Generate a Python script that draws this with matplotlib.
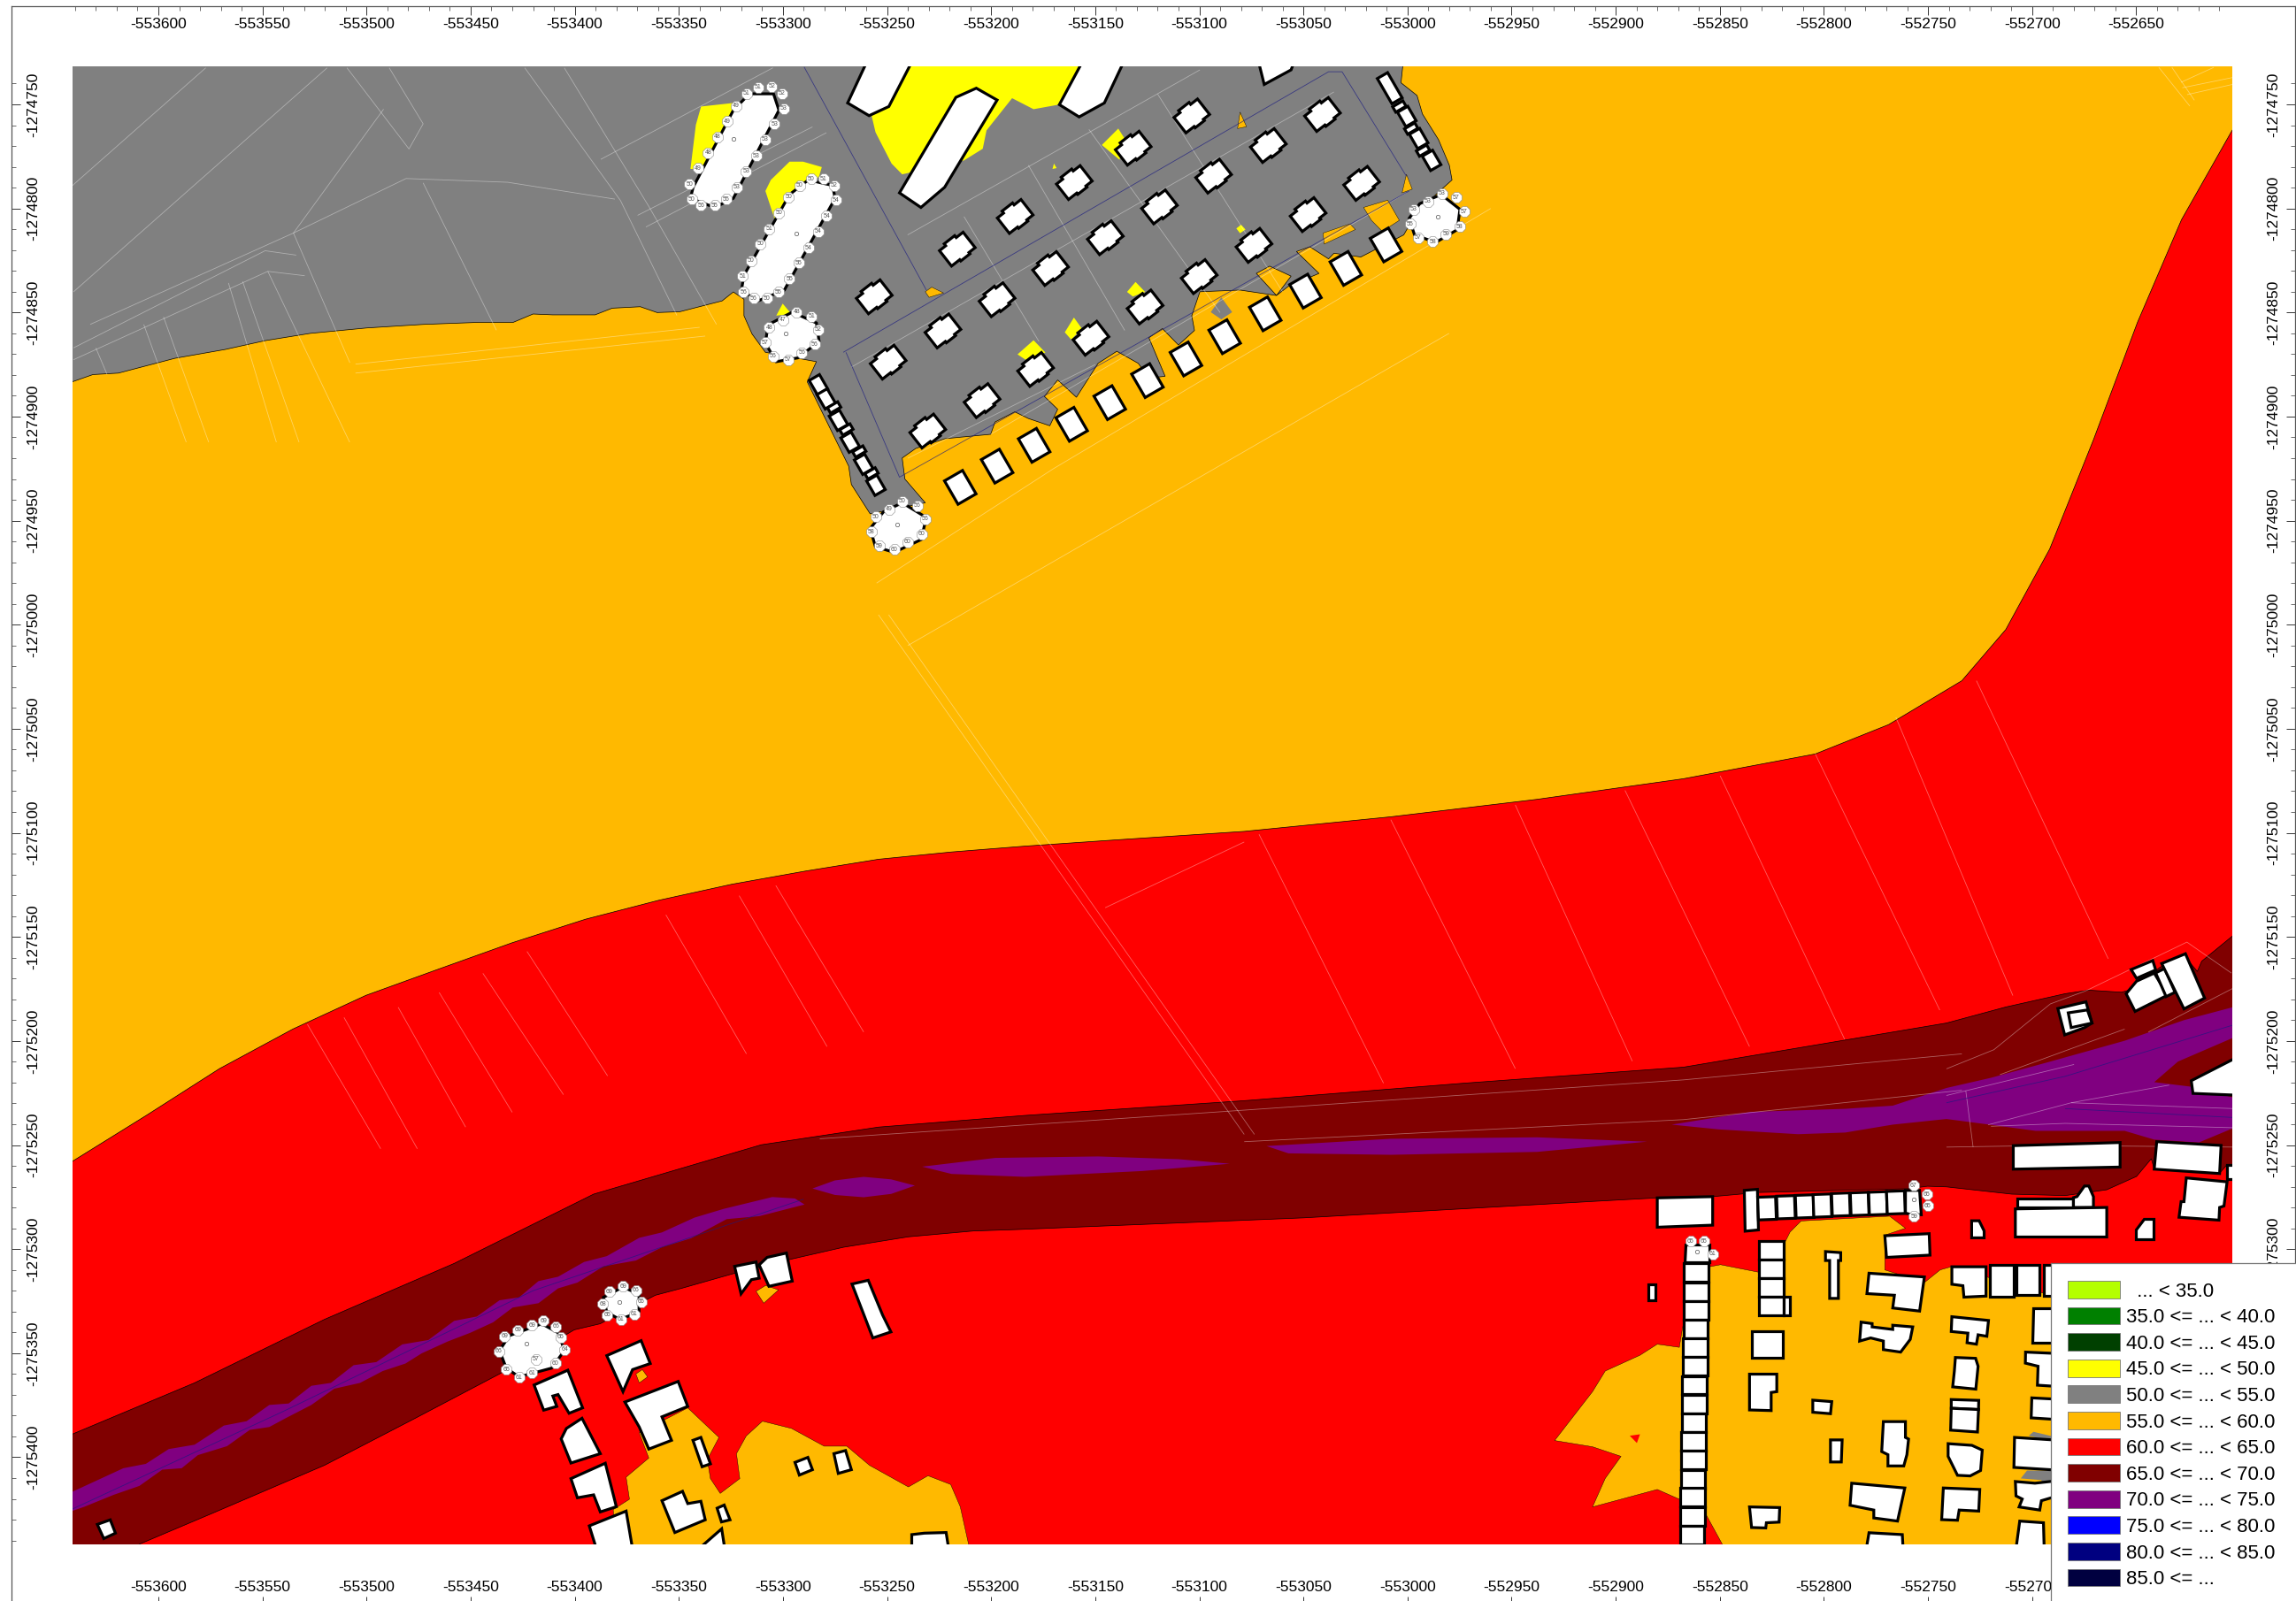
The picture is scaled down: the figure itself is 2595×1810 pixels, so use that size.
import numpy as np
import matplotlib
matplotlib.use('Agg')
import matplotlib.pyplot as plt
from matplotlib.patches import Polygon, Patch
from matplotlib.collections import LineCollection

plt.rcParams['font.family'] = ['Liberation Sans', 'DejaVu Sans']

# map origin: all shapes below are metres east / south of this point
E0 = -553600
N0 = -1274750

x_major = list(range(-553600, -552600, 50))
y_major = list(range(-1274750, -1275450, -50))
x_minor = list(range(-553640, -552600, 10))
y_minor = list(range(-1274740, -1275450, -10))

legend_labels = ['  ... < 35.0', '35.0 <= ... < 40.0', '40.0 <= ... < 45.0', '45.0 <= ... < 50.0',
                 '50.0 <= ... < 55.0', '55.0 <= ... < 60.0', '60.0 <= ... < 65.0', '65.0 <= ... < 70.0',
                 '70.0 <= ... < 75.0', '75.0 <= ... < 80.0', '80.0 <= ... < 85.0', '85.0 <= ...']
legend_colors = ['#B4FF00', '#008000', '#004000', '#FFFF00', '#808080', '#FFB900',
                 '#FF0000', '#800000', '#800080', '#0000FF', '#000080', '#000040']

# noise bands
gray_zone = [(-45, -20), (597.7, -20), (597.7, -18), (596.9, -10.4), (604.6, -4.3), (607.2, 4.6), (614.9, 16.9),
             (620.1, 29.2), (621.4, 36.3), (613.6, 43.3), (603.3, 53.9), (598.2, 62.7), (577.6, 73.3),
             (564.7, 71.5), (562.1, 74.2), (553.1, 68.4), (546.7, 70.7), (557.5, 81.2), (542.8, 87.4),
             (537.1, 91.8), (544.1, 82.5), (533.8, 77.7), (527.4, 81.2), (537.1, 91.8), (519.6, 89.2),
             (500.3, 90), (496.4, 101.5), (497.7, 108.6), (490, 115.6), (482.3, 107.7), (475.8, 112.1),
             (483.6, 130.6), (475.8, 131.5), (470.7, 124.4), (460.4, 118.6), (451.4, 124.4), (441, 140.7),
             (432, 132.4), (425.6, 140.3), (432, 146.5), (428.2, 154.4), (417.9, 150.9), (411.4, 147.7),
             (401.9, 152.6), (399.8, 158.5), (377.9, 160.6), (363.8, 165.3), (357.3, 169.9), (358.6, 180),
             (368.4, 191.4), (341.9, 196.7), (332.9, 182.6), (331.6, 173.8), (311.7, 133.3), (316.1, 123.6),
             (291.6, 119.1), (285.2, 110.3), (281.3, 101.5), (281.3, 93.6), (276.2, 90.1), (270.8, 94.4),
             (250.5, 99.6), (239.6, 100), (231.5, 97.2), (218, 97.9), (209.8, 101.1), (189.5, 101.1),
             (180, 100.7), (170.5, 104.7), (154.3, 104.7), (127.2, 105.7), (100.1, 107.4), (73, 110),
             (51.3, 113.5), (32.3, 117.7), (7.9, 122), (-19.2, 129.1), (-31.4, 129.8), (-41.4, 133.3), (-45, 134)]
gray_islands = [[(510.6, 92.7), (515.8, 99.8), (510.6, 103.3), (505.5, 99.8)],
                [(898.4, 639.7), (900.7, 637.8), (915, 641.2), (915, 643.5)],
                [(894.6, 660.2), (897.6, 656.4), (915, 656.4), (915, 670), (907, 670), (904.5, 661)]]
red_zone = [(-45, 510), (-40.9, 507.6), (-5.8, 485.8), (29.4, 463.3), (64.6, 444.3), (99.7, 428.1), (134.8, 415.4),
            (170, 402.8), (205.2, 391.5), (240.4, 382.4), (275.5, 374.7), (310.7, 368.4), (345.9, 362.7),
            (381, 359.2), (416.2, 356.4), (458.4, 353.5), (521.7, 349.3), (592, 342.3), (662.3, 333.9),
            (732.6, 324), (795.9, 312.1), (831.1, 298), (866.3, 276.9), (887.4, 252.3), (908.5, 213.6),
            (929.6, 160.9), (950.7, 104.6), (971.8, 55.4), (995.7, 13.2), (1000, 6), (1000, 700), (-45, 700)]
dark_zone = [(-45, 641), (-41.5, 639), (17.4, 614.3), (79.8, 583.8), (142.1, 556.9), (209.1, 523.6), (289.6, 499.9),
             (345.9, 491.4), (416.2, 485.8), (521.7, 478.7), (627.2, 470.3), (732.6, 462.6), (858.9, 441.4),
             (887.4, 433.7), (915.9, 427.3), (927.3, 425.6), (943, 426.6), (948, 425.2), (961.6, 414.5),
             (973, 408.9), (979.4, 416.6), (981.5, 411.7), (997.1, 398.9), (1000, 396), (1000, 509.5),
             (993.6, 509.5), (990, 513.7), (958.7, 511.6), (957.3, 506.6), (950.2, 515.1), (935.9, 521.5),
             (915.9, 524.3), (890.3, 523.6), (858.9, 520.1), (849.8, 519.8), (840.7, 521), (768.6, 522.8),
             (746.6, 524.8), (720, 525.4), (688.9, 527.1), (550, 535), (412.7, 540.6), (391.5, 541.3),
             (360.3, 544.1), (329.2, 549.1), (304.2, 554.8), (276.2, 561.8), (251.2, 568.9), (238.7, 572.2),
             (212.2, 585.9), (199.8, 588.8), (163.9, 610), (123.4, 631.3), (79.8, 653.9), (26.8, 676.6),
             (-9.1, 691.8), (-18, 700), (-45, 700)]
purple_west = [(-45, 668), (-41.5, 666.7), (-16.8, 655.3), (-6, 653.2), (5, 646.1), (17.4, 644), (31.5, 634.8),
               (42.4, 632.7), (53.3, 624.9), (62.6, 624.2), (73.5, 615.7), (82.9, 614.3), (93.8, 605.8), (104.7, 604.3),
               (117.2, 595.8), (129.7, 593.7), (142.1, 584.5), (153, 582.4), (163.9, 574.6), (173.3, 573.2),
               (182.6, 565.4), (192, 563.3), (204.5, 556.2), (215.4, 553.4), (231, 544.6), (241.9, 542), (257.5, 534.9),
               (271.5, 530.7), (294.9, 525), (305.8, 525.7), (310.4, 528.6), (288.6, 534.2), (273, 535.6), (255.9, 544.8),
               (241.9, 549.1), (229.4, 555.5), (213.8, 558.3), (201.3, 566.1), (192, 568.9), (182.6, 576), (170.2, 578.1),
               (160.8, 585.2), (149.9, 590.2), (139, 594.4), (126.5, 600.1), (118.7, 605), (107.8, 608.6), (96.9, 614.3),
               (84.5, 617.1), (73.5, 624.9), (61.1, 631.3), (53.3, 635.5), (43.9, 636.9), (33, 644.7), (19, 649),
               (11.2, 655.3), (1.9, 656), (-9.1, 663.8), (-21.5, 668.1), (-35.5, 673.8), (-41.5, 675.9), (-45, 677)]
purple_lens = [[(314.2, 520.9), (325, 517), (338.8, 515.3), (352, 516.5), (363.4, 519.5), (352, 523.5), (338.8, 525.1), (325, 524)],
               [(366.9, 510.4), (402, 506.2), (451.4, 505.5), (490, 506.8), (514.7, 509), (472.5, 512.5), (416.2, 515.3), (381, 513.9)],
               [(532.3, 500.5), (592, 497), (662.3, 496.3), (715.1, 498.4), (662.3, 503.3), (592, 504.7), (542.8, 504)]]
purple_east = [(726.9, 490.2), (764.8, 484.1), (810.3, 482.6), (833.1, 481.1), (858.9, 472.6), (880.3, 467.7),
               (908.8, 459.9), (944.5, 449.9), (973, 440), (997.1, 433.6), (1000, 433), (1000, 491), (997.1, 491.7),
               (980.1, 498.8), (958.7, 497.4), (944.5, 493.2), (901.7, 493.2), (880.3, 490.3), (858.9, 487.5),
               (833.1, 490.2), (810.3, 494), (787.6, 494.8), (749.6, 492.5)]
dark_island = [(1000, 447), (970.1, 459.9), (958.7, 469.8), (975.8, 471.9), (1000, 478)]
orange_south = [[(254.3, 626.3), (269.3, 640.5), (263.7, 651.1), (265.2, 660.3), (269.9, 667.4), (279.3, 660.3),
                 (277.7, 648.3), (282.4, 639.8), (290.2, 632.7), (304.2, 636.2), (319.8, 644.7), (330.7, 644.7),
                 (341.6, 653.9), (360.3, 664.3), (369.7, 658.9), (380.6, 663.1), (385.2, 673.8), (389.9, 695),
                 (220, 695), (218.5, 675.2), (226.3, 670.2), (224.7, 659.6), (235.6, 650.4), (231, 638.3)],
                [(291.7, 567.5), (297.9, 569.6), (290.8, 576), (287.1, 570.3)],
                [(232.5, 607.9), (235, 611.4), (231, 614.3), (229.4, 610)],
                [(670.7, 642), (688.9, 618.5), (695, 608.6), (711.7, 601), (720, 595.7), (730.6, 597.2), (732.2, 587.4),
                 (745.1, 558.5), (750.4, 557.5), (768.6, 561.1), (781.5, 546.4), (783.8, 541.8), (789.1, 536.5),
                 (831.6, 534.2), (839.2, 540), (829.3, 543.3), (829.3, 560), (848.3, 566.1), (855.9, 560),
                 (861.2, 558.5), (909, 572.2), (1000, 572), (1000, 700), (755.7, 700), (743.5, 677.7), (732.2, 670.9),
                 (720, 665.5), (688.9, 673.9), (695, 660.2), (702.6, 649.6), (688.9, 645)]]
red_hole = [(706.8, 639.7), (711.7, 639), (710.2, 643.2)]
orange_north = [[(519.6, 3.7), (522.7, 10.7), (518.4, 11.6)], [(371.5, 87.8), (377.2, 90.6), (370.2, 92.7), (368.4, 90)],
                [(599.5, 33.6), (602.3, 40.7), (597.4, 42.5)], [(559.5, 61.8), (572.4, 57.4), (575, 60.1), (560, 67.1)],
                [(578.9, 49.5), (590.5, 46), (596.1, 55.7), (587.9, 61), (582.7, 55.7)]]
yellow_zones = [[(361.7, -20), (342.6, 5.4), (344.5, 13.4), (352.2, 28.4), (357.3, 33.6), (387, 26.9), (396, 21.3),
                 (397.8, 12.5), (410.1, -3), (420.4, 2.3), (432.5, 0.1), (443.6, -20)],
                [(260.7, 1), (276.2, -0.7), (278.8, 2.8), (260.7, 31), (255.6, 31), (258.2, 9.8)],
                [(303.2, 27.5), (309.7, 27.5), (318.7, 30.1), (317.4, 34.5), (296.8, 57.4), (291.6, 41.6), (294.2, 36.3)],
                [(299.9, 95.7), (304, 100.6), (296.8, 101.5)],
                [(461.1, 11.6), (464.2, 16.5), (461.7, 26.6), (453.2, 19.5)],
                [(469.4, 85.3), (474, 90.1), (468.1, 92.3), (465.3, 90.1)],
                [(439.8, 102.4), (443.6, 107.7), (438.5, 113), (435.4, 109.5)],
                [(420.4, 113.3), (426.1, 119.2), (416.6, 122.7), (412.7, 120.1)],
                [(520.1, 57.8), (522.2, 60.1), (519.6, 61.9), (517.8, 59.6)],
                [(430.2, 28.4), (431.5, 30.6), (429.5, 31)]]

# thin survey / road lines
light_lines = [[(-41.4, 39.1), (22.8, -17.6)], [(-40.8, 90.1), (81.1, -17.6)],
               [(-32.7, 105.7), (64.9, 61.8), (119, 35.6), (167.8, 37.4), (219.3, 45.5)],
               [(-40.8, 117), (51.3, 70.3), (66.2, 72.4)], [(-40.8, 122.7), (52.6, 80.2), (70.3, 82.3)],
               [(64.9, 61.8), (92, 124.1)], [(127.2, 37.7), (162.4, 108.5)], [(176, -17.6), (222, 46.2), (249.1, 101.4)],
               [(195, -17.6), (235.6, 49), (268.1, 105.7)], [(230.2, 53.3), (314.2, 10.8)], [(212.5, 26.4), (295.2, -17.6)],
               [(234.2, 58.9), (320.9, 13.6)], [(90.6, -17.6), (120.4, 21.4), (127.2, 9.3), (110.9, -17.6)],
               [(64.9, 61.8), (108.2, 2.3)], [(94.7, 124.8), (260, 107.1)], [(94.7, 129.1), (262.7, 111.3)],
               [(-30, 117), (-24.6, 129.8)], [(-7, 105.7), (13.4, 162.3)], [(2.5, 102.1), (24.2, 162.3)],
               [(33.7, 85.8), (56.7, 162.3)], [(40.5, 85.1), (67.6, 162.3)], [(52.6, 80.2), (91.9, 162.3)],
               [(106.8, 501.8), (71.6, 442)], [(124.4, 501.8), (89.2, 438.7)], [(115.2, 433.8), (147.6, 491.4)],
               [(134.9, 426.7), (170, 484.3)], [(155.9, 417.5), (194.6, 475.8)], [(177.1, 407), (215.8, 466.8)],
               [(243.8, 389.4), (282.5, 456.2)], [(279, 380.2), (321.2, 452.7)], [(296.6, 375.3), (338.8, 445.7)],
               [(528.7, 350.7), (588.5, 470.3)], [(592, 343.7), (651.8, 463.3)], [(651.8, 336.6), (708, 459.7)],
               [(704.5, 329.6), (764.3, 452.7)], [(750.2, 322.6), (810, 449.2)], [(795.9, 312.1), (855.7, 435.2)],
               [(834.6, 294.5), (890.8, 428.2)], [(873.3, 276.9), (936.6, 410.5)], [(345.9, 245.2), (521.6, 494.9)],
               [(350.8, 245.2), (526.5, 494.9)], [(454.8, 386), (521.6, 354.4)],
               [(317.7, 497), (507.6, 484.2), (732.6, 468.7), (866.3, 456.2)], [(521.6, 498.4), (732.6, 487.8), (866.3, 473.7)],
               [(858.9, 463.4), (881.7, 454.2), (908.8, 432.2), (925.9, 425.9), (974.4, 402.5), (995.8, 417.4)],
               [(858.9, 501), (908.8, 500.2), (997.1, 501)], [(884.6, 466.2), (944.5, 444.3)], [(955.9, 445.7), (997.1, 424.4)],
               [(858.9, 476.2), (920.2, 461.3)], [(878.9, 490.3), (918.8, 479.7), (965.9, 471.2)],
               [(918.8, 479.7), (997.1, 482.5)], [(880.3, 491), (915.9, 489.6), (997.1, 491.7)], [(868.2, 474), (871.7, 501)],
               [(359.9, 62.7), (500.3, -16.6)], [(399.8, 158.5), (599.5, 42.4)], [(332.9, 126.2), (564.7, -6)],
               [(387, 53.9), (423, 113.9)], [(417.9, 29.2), (464.2, 108.6)], [(447, 12), (510, 100)], [(480, -5), (540, 90)],
               [(360, 170), (450, 125)], [(345, 230), (430, 175), (640, 50)], [(360, 260), (620, 110)],
               [(960.9, -17.8), (975.8, 0.8)], [(967.2, -17.8), (978, -2)], [(971.5, -10.6), (987.3, -17.8)],
               [(972.2, -8), (996.7, -13)], [(974.5, -4.7), (996.7, -9.7)]]
blue_lines = [[(310.2, -18), (368.9, 89.2)], [(329, 119.1), (562.1, -15.7), (568.6, -15.7), (599.5, 34.5)],
              [(330.3, 119.1), (356, 179.1), (600.8, 41.6)], [(-41.5, 675), (60, 628), (180, 570), (310, 526)],
              [(858.9, 479.7), (915.9, 467), (997.1, 442.2)], [(915.9, 482.5), (997.1, 486.8)]]

# buildings with a free outline
building_outlines = [
    [(340.1, -20), (331.1, -0.7), (341.4, 5.4), (350.9, 1), (361.7, -20)],
    [(392.9, -7.8), (402.9, -2.1), (377.7, 39.8), (366.3, 49.5), (356, 42.5), (383.1, -3.4)],
    [(443.6, -20), (432.8, 0.1), (442.3, 6), (454.4, -0.7), (463.5, -20)],
    [(528.6, -20), (531.2, -9.6), (544.1, -16.6), (545.4, -20)],
    [(283.9, -5.1), (295.5, -5.1), (298.1, 2.8), (276.2, 45.1), (267.2, 49.5), (255.6, 45.1), (256.9, 39.8), (276.2, 2.8)],
    [(312.2, 36.3), (323.8, 38.9), (325.1, 45.1), (300.7, 89.2), (287.8, 94.5), (280.1, 89.2), (281.3, 82.1), (303.2, 43.3)],
    [(304.5, 99.8), (316.1, 105), (317.4, 113.9), (307.1, 121.8), (296.8, 123.6), (291.6, 114.7), (292.9, 105.9)],
    [(616.2, 43.3), (625.2, 50.4), (623.9, 60.2), (613.6, 66.3), (603.4, 62.7), (600.8, 54.8), (605.9, 47.7)],
    [(357.3, 191.4), (368.9, 198.5), (366.4, 209.1), (353.5, 215.2), (344.5, 212.6), (341.9, 203.8), (348.3, 195.8)],
    [(184.2, 585.9), (192, 590.2), (195.1, 598.7), (188.9, 607.2), (173.3, 611.4), (167.1, 607.2), (163.9, 598.7), (168.6, 591.6)],
    [(223.2, 568.2), (230.9, 571.8), (230.9, 580.3), (221.6, 583.8), (215.4, 580.3), (213.8, 573.2)],
    [(-29.3, 682.3), (-23.1, 680.1), (-20.6, 686.5), (-26.2, 689.1)],
    [(276.8, 558.3), (287.1, 556.2), (288.6, 564), (284.9, 564.7), (279.9, 571.5)],
    [(292.4, 554), (301.7, 551.9), (304.5, 565.4), (293.3, 567.9), (288.6, 557.6)],
    [(333.2, 566.8), (341, 565), (347.9, 581.7), (351.9, 589.8), (343.2, 592.7)],
    [(215.4, 601.2), (231.9, 594), (236.3, 605), (227.8, 607.9), (223.2, 618.5)],
    [(224.1, 623.5), (249.7, 613.6), (254.3, 625.6), (241.9, 630.6), (246.5, 641.9), (235.6, 646.1), (231, 635.5)],
    [(180.5, 615.3), (196.7, 608.2), (203.8, 626.3), (197.3, 628.9), (192, 619.9), (189.5, 620.6), (191.4, 625.6), (185.1, 627.4)],
    [(196, 636.2), (203.5, 631.3), (212.3, 648.3), (198.2, 652.8), (193.5, 641.2)],
    [(198.2, 660.3), (214.7, 652.9), (220, 673.8), (212.3, 676.3), (209.1, 668.1), (201.3, 669.5)],
    [(207, 683), (224.7, 675.9), (228.8, 700), (212.3, 700)],
    [(241.9, 670.9), (251.8, 666.4), (254.3, 672.3), (260.6, 671.2), (262.7, 680.1), (248.1, 686.2)],
    [(256.8, 641.9), (260.6, 640.5), (265.2, 653.2), (261.2, 654.6)],
    [(268.4, 674.5), (271.8, 673), (274.6, 680.1), (270.5, 681.1)],
    [(305.8, 652.5), (312, 650.1), (314.2, 656), (307.9, 658.6)],
    [(324.5, 648.3), (330.1, 646.8), (332.9, 656), (326.6, 657.8)],
    [(252.8, 700), (270.6, 684.4), (273, 700)],
    [(361.9, 700), (361.9, 687.2), (368, 686.5), (378.4, 686.2), (380.6, 700)],
    [(720, 525.4), (746.6, 524.8), (746.6, 538.5), (720, 539.5)],
    [(761.8, 521.8), (768.1, 521.3), (768.6, 540.8), (762.2, 541.4)],
    [(839.2, 521.8), (846, 521.8), (846.8, 533.5), (842.2, 533.5), (839.2, 532.7)],
    [(733.7, 547.9), (745.1, 547.9), (745.1, 556.2), (733.2, 556.2)],
    [(715.5, 566.9), (719.3, 566.9), (719.3, 574.5), (715.5, 574.5)],
    [(764.3, 610.1), (777.4, 610.1), (777.4, 618.5), (774.7, 618.9), (774.7, 627.6), (764.3, 627.3)],
    [(794.7, 622.6), (803.8, 623.3), (803.2, 629.1), (794.7, 628.4)],
    [(803.2, 641.7), (808.8, 641.7), (808.4, 652.3), (803.2, 652.3)],
    [(764.3, 673.9), (778.8, 674.2), (778.5, 681.2), (772.4, 681.5), (772.1, 684), (765.3, 683.8)],
    [(800.8, 551.2), (808.1, 551.7), (808.1, 555.5), (807, 555.5), (807, 573.7), (802.8, 573.7), (802.8, 555.5), (800.8, 555.5)],
    [(829.3, 543.6), (850.6, 542.6), (851, 552.9), (830.1, 554)],
    [(821.7, 561.6), (848.3, 563.4), (846, 579.8), (833.1, 578.3), (833.9, 572.2), (820.7, 571.4)],
    [(817.9, 585.1), (823.2, 585.8), (823.2, 587.4), (833.1, 588.6), (833.1, 586.6), (842.7, 587.4), (841.5, 593.4),
     (836.9, 599.5), (828.6, 598.3), (828.6, 594.2), (822.5, 592.7), (817.2, 594.2)],
    [(828.6, 632.9), (839.2, 632.9), (839.2, 640.5), (840.7, 641.3), (839.9, 648.8), (838.4, 654.2), (830.8, 654.2),
     (830.8, 648.8), (827.8, 647.3)],
    [(813.4, 662.5), (838.9, 664.8), (836.9, 673.9), (835.4, 680.7), (824, 679.2), (824, 675.4), (812.6, 673.1)],
    [(819.4, 700), (821.7, 686.3), (837.7, 687.2), (838.4, 700)],
    [(861.5, 558.5), (877.9, 558.5), (877.9, 572.6), (867.3, 573.1), (866.8, 567.6), (861.5, 566.9)],
    [(861.5, 582.5), (879.1, 584.3), (878.3, 591.9), (874.1, 591.2), (873.3, 595.7), (868.8, 595), (869.2, 590.4), (861.2, 589.6)],
    [(863.2, 602.1), (872.9, 602.5), (874.1, 606.3), (873, 617.3), (861.9, 616.2), (862.7, 608.6)],
    [(861.2, 622.3), (874.4, 622.7), (874.3, 627.1), (861.2, 626.5)],
    [(861.2, 626.5), (874.3, 627.1), (873.8, 637.9), (860.9, 637)],
    [(859.7, 643.5), (871.1, 644.3), (876.1, 646.6), (875.3, 656.4), (870.3, 659), (864.2, 658.7), (859.7, 649.6)],
    [(857.4, 664.8), (874.9, 665.5), (874.4, 675.9), (865, 675.4), (864.2, 680.3), (856.6, 680)],
    [(891.5, 700), (894.1, 680.7), (905.5, 681.5), (906, 700)],
    [(900.6, 578.3), (915, 578.3), (915, 595), (900.2, 595)],
    [(896.9, 599.5), (915, 600.3), (915, 616.2), (902.6, 615.4), (902.9, 606.3), (896.8, 604.8)],
    [(899.9, 621.5), (915, 622.3), (915, 632.1), (899.6, 631.1)],
    [(891.6, 640.5), (915, 642), (915, 656.4), (891.3, 654.9)],
    [(892, 661.7), (901.4, 662.5), (915, 661), (915, 667.8), (904.5, 670.9), (903.7, 675.4), (893.8, 673.9), (895.3, 670.1), (892.3, 668.6)],
    [(891, 500.3), (942.3, 498.8), (942.3, 510.6), (891, 511.6)],
    [(959.9, 498.4), (990.8, 500.2), (990.1, 513.7), (958.7, 511.6)],
    [(993.7, 509.5), (1002, 509.5), (1002, 516.5), (993.7, 516.5)],
    [(974.1, 515.8), (993.7, 517.7), (992.2, 529.3), (990.1, 530), (989.8, 536.1), (970.6, 534.7), (971.6, 527.2), (973, 527.2)],
    [(893.1, 525.8), (919.5, 525.8), (919.5, 530), (893.1, 530)],
    [(919.9, 525.3), (921.6, 524.8), (925.2, 519.7), (927.3, 519.7), (929.5, 524.8), (929.5, 530), (919.9, 530)],
    [(892, 530.7), (935.9, 530), (935.9, 544.2), (892, 544.2)],
    [(871, 536.4), (874.6, 536.4), (877, 541.3), (877, 544.6), (871, 544.6)],
    [(953.7, 535.3), (958.3, 535.3), (958.3, 545.2), (949.7, 545.2), (949.7, 540.4)],
    [(976.5, 469.1), (997.2, 458.5), (1002, 458.5), (1002, 476.2), (977.3, 475.2)],
    [(912.4, 434.4), (925.9, 431.2), (928.8, 441.4), (925.2, 443.6), (915.7, 447.1)],
    [(917.4, 436.5), (926.6, 435.1), (928.8, 441.4), (918.8, 443.6)],
    [(947.6, 415.7), (958, 411.4), (959.4, 415.9), (950.2, 419.9)],
    [(950.2, 421.3), (958.7, 417.4), (965.1, 428), (949.5, 435.8), (945.2, 427.3)],
    [(959.4, 417.3), (963.7, 415.2), (968.7, 426.6), (964.4, 428.7)],
    [(962.3, 412.8), (973.7, 408.1), (982.9, 429.4), (973, 434.6)],
]

# repeated plans: terraced houses in the estate
house_e = [383.6, 411.4, 439.8, 468.1, 496.2, 343.7, 350.4, 376.7, 402.7, 428.4, 454.7, 480.7, 506.7, 533, 559,
           369.4, 395.5, 421.2, 447.8, 473.8, 499.8, 526.1, 552.1, 577.8]
house_s = [69.3, 53.6, 37.3, 20.8, 5.3, 92.2, 123.6, 108.6, 93.6, 78.6, 63.8, 49, 34.2, 19.5, 4.6,
           156.7, 142.1, 127.1, 112.1, 97.1, 82.5, 67.5, 52.7, 37.7]
house_u = [-7.2, -2.2, -2.2, 3.4, 3.4, 7.2, 7.2, 3, 3, -3.4, -3.4, -7.2]
house_v = [-5, -5, -5.8, -5.8, -5, -5, 4.4, 4.4, 5.6, 5.6, 4.4, 4.4]
house_angle = 38

# rectangular blocks: east, south, width, depth, angle
rect_e = [385.2, 402.9, 420.7, 438.7, 457, 475.1, 493.6, 512.2, 531.7, 551, 570.4, 589.7,
          317.1, 320.8, 324.6, 326.7, 330.5, 332.3, 336.7, 338.8, 342.6, 344.7,
          591.5, 596.1, 599.7, 601.8, 605.4, 607.5, 611.6,
          772.7, 781.8, 790.8, 799.3, 808.2, 817.2, 826, 834.6,
          738.8, 738.7, 738.5, 738.4, 738.2, 738.1, 737.9, 737.8, 737.6, 737.5, 737.3, 737.2, 737, 736.9, 736.7,
          774.8, 774.8, 774.8, 774.8, 782.3, 773, 885.5, 898.1, 911.1]
rect_s = [184, 173.8, 163.8, 153.7, 143.3, 132.7, 122.3, 111.6, 100.6, 89.7, 78.8, 67.5,
          134.7, 141.5, 145.6, 151.8, 156.2, 162.3, 166.8, 172.9, 177.3, 183,
          -7.8, 1, 5.8, 11.6, 16.4, 22.2, 26.9,
          530.4, 529.9, 529.5, 529.1, 528.6, 528.3, 528, 527.6,
          561.4, 570.5, 579.3, 588.3, 597.2, 606.3, 615.4, 624.5, 633.4, 642.3, 651.4, 660.5, 669.3, 678.4, 687.5,
          550.6, 559.6, 568.4, 577.5, 577.2, 595.7, 565.3, 564.8, 565]
rect_w = [10] * 12 + [5.7] * 10 + [5.7] * 7 + [8.6] * 8 + [11.8] * 15 + [11.8] * 4 + [3, 14.9, 11.2, 11, 11]
rect_d = [13] * 12 + [8, 8, 3, 8, 3, 8, 3, 8, 3, 8] + [14, 3, 8, 3, 8, 3, 8] + [10.9] * 8 + [8.9] * 15 + [9] * 4 + [9, 12.8, 15.2, 14.7, 15]
rect_a = [30] * 12 + [30] * 10 + [30] * 7 + [2] * 8 + [0] * 15 + [0] * 4 + [0, 0, 0, 0, 0]

# receiver points with their level labels
recv_e = [282.6, 288, 294.7, 299.6, 300.4, 296, 291.6, 287.3, 282.4, 278, 272.8, 267.2, 260.7, 256.1, 255.1, 259.4, 264.1, 268.5, 273.1, 277.5,
          308.1, 313.5, 319.5, 324.6, 325.4, 321, 316.9, 312.2, 307.6, 303.2, 297.8, 292.4, 286, 281.1, 280.6, 284.7, 289.1, 293.4, 298.1, 302.7,
          306.6, 313.8, 317.1, 315.3, 309.2, 302.5, 295.3, 291.6, 293.4, 299.9,
          616.5, 623.4, 627.3, 625.2, 618.5, 612.1, 605.1, 601.3, 603.1, 609.8,
          357.3, 364.5, 368.4, 366.6, 359.9, 353.5, 346.3, 342.4, 344.5, 350.9,
          163.6, 166.4, 172.7, 179.5, 185.1, 191, 193.3, 195.1, 190.8, 179.5, 173.3, 167.1, 181.4,
          223.2, 229.4, 231.9, 228.5, 222.2, 215.7, 213.5, 216.6,
          843.1, 849.5, 849.8, 843.4, 736.1, 742.3, 746.6]
recv_s = [-5.3, -8.3, -8.7, -5.3, 1.9, 9.5, 16.9, 24.7, 32.2, 39.8, 45.6, 48.6, 48.6, 45.6, 38.4, 30.6, 23.2, 15.7, 8.1, 0.7,
          38.9, 35.8, 35.8, 38.9, 46, 53.6, 61, 68.9, 76.1, 83.9, 90.1, 93.1, 93.1, 90.1, 82.5, 75.1, 67.1, 59.9, 52.2, 44.6,
          99.8, 101.9, 108.2, 115.3, 119.2, 122.8, 120.9, 114.4, 107.2, 103.5,
          42.8, 44.8, 51.5, 58.7, 62.4, 65.9, 64.1, 57.4, 50.4, 46.7,
          190.6, 192.8, 199.2, 206.4, 210.3, 213.8, 212.1, 205.4, 198.1, 194.6,
          599.1, 591.9, 589, 586.6, 584.5, 587.3, 592.3, 598.3, 604.8, 609.6, 611.7, 607.9, 602.9,
          567.8, 569.8, 575.3, 581.3, 583.9, 581.7, 576.3, 570.4,
          519.5, 523.8, 529.2, 534.4, 546.2, 546.2, 552.3]
recv_level = [51, 51, 52, 52, 53, 53, 53, 53, 53, 53, 55, 55, 56, 50, 50, 49, 48, 48, 49, 49,
              50, 50, 51, 52, 54, 54, 54, 54, 55, 55, 55, 50, 56, 56, 51, 50, 50, 51, 50, 50,
              48, 51, 52, 56, 56, 57, 56, 57, 48, 47,
              53, 57, 57, 58, 59, 58, 57, 55, 53, 53,
              50, 56, 56, 60, 60, 60, 59, 58, 50, 49,
              66, 69, 69, 69, 69, 66, 65, 64, 60, 61, 61, 65, 57,
              69, 66, 65, 61, 61, 65, 68, 69,
              67, 65, 65, 59, 65, 65, 61]
centre_e = [276.2, 306.3, 301.4, 614.4, 354.8, 177, 221.6, 843.4, 739.1]
centre_s = [16.5, 61.9, 110, 53.9, 202, 595.4, 575.3, 526, 551.1]


def to_map(points):
    pts = np.array(points, dtype=float)
    return np.column_stack([E0 + pts[:, 0], N0 - pts[:, 1]])


def placed(east, south, u, v, angle):
    a = np.radians(angle)
    x = E0 + east + np.array(u) * np.cos(a) - np.array(v) * np.sin(a)
    y = N0 - south + np.array(u) * np.sin(a) + np.array(v) * np.cos(a)
    return np.column_stack([x, y])


def px_box(left, top, right, bottom):
    return [left / 2595, 1 - bottom / 1810, (right - left) / 2595, (bottom - top) / 1810]


def fill(ax, pts, color, z, edge='black', lw=0.5):
    ax.add_patch(Polygon(pts, closed=True, facecolor=color, edgecolor=edge, linewidth=lw, zorder=z))


fig = plt.figure(figsize=(25.95, 18.10), dpi=100, facecolor='white')

# outer frame with the graduated border
frame = fig.add_axes(px_box(13, 7, 2594, 1815))
frame.set_xlim(-553670.55, -552573.65)
frame.set_ylim(-1275471.2, -1274702.83)
frame.set_xticks(x_major)
frame.set_xticklabels([str(v) for v in x_major])
frame.set_yticks(y_major)
frame.set_yticklabels([str(v) for v in y_major])
frame.set_xticks(x_minor, minor=True)
frame.set_yticks(y_minor, minor=True)
frame.tick_params(which='major', direction='in', length=7, width=0.7, color='#333333',
                  top=True, right=True, labeltop=True, labelright=True, labelsize=12.5, pad=-20)
frame.tick_params(which='minor', direction='in', length=3.5, width=0.6, color='#555555', top=True, right=True)
frame.tick_params(axis='y', labelrotation=90, pad=-23)
for lab in frame.get_yticklabels():
    lab.set_va('center')
# the legend panel covers these border labels completely
for val, tick in zip(y_major, frame.yaxis.get_major_ticks()):
    if val < -1275300:
        tick.label2.set_visible(False)
for val, tick in zip(x_major, frame.xaxis.get_major_ticks()):
    if val > -552700:
        tick.label1.set_visible(False)
for side in frame.spines.values():
    side.set_color('#555555')
    side.set_linewidth(0.9)

# the map itself
ax = fig.add_axes(px_box(82, 75, 2523, 1746))
ax.set_xlim(-553641.2, -552603.8)
ax.set_ylim(-1275441.9, -1274731.7)
ax.set_xticks([])
ax.set_yticks([])
ax.set_facecolor('#FFB900')
for side in ax.spines.values():
    side.set_visible(False)

fill(ax, to_map(gray_zone), '#808080', 2)
for shape in gray_islands:
    fill(ax, to_map(shape), '#808080', 6, edge='none')
fill(ax, to_map(red_zone), '#FF0000', 3)
fill(ax, to_map(dark_zone), '#800000', 4)
fill(ax, to_map(purple_west), '#800080', 5, edge='none')
for shape in purple_lens:
    fill(ax, to_map(shape), '#800080', 5, edge='none')
fill(ax, to_map(purple_east), '#800080', 5, edge='none')
fill(ax, to_map(dark_island), '#800000', 5.5, edge='none')
for shape in orange_south:
    fill(ax, to_map(shape), '#FFB900', 5, lw=0.3)
fill(ax, to_map(red_hole), '#FF0000', 5.5, edge='none')
for shape in orange_north:
    fill(ax, to_map(shape), '#FFB900', 5, lw=0.3)
for shape in yellow_zones:
    fill(ax, to_map(shape), '#FFFF00', 5, edge='none')

ax.add_collection(LineCollection([to_map(l) for l in light_lines], colors='white', alpha=0.38, linewidths=0.6, zorder=7))
ax.add_collection(LineCollection([to_map(l) for l in blue_lines], colors='#1a1a80', alpha=0.7, linewidths=0.6, zorder=7))

for shape in building_outlines:
    fill(ax, to_map(shape), 'white', 8, lw=2.3)
for e, s in zip(house_e, house_s):
    fill(ax, placed(e, s, house_u, house_v, house_angle), 'white', 8, lw=2.3)
for e, s, w, d, a in zip(rect_e, rect_s, rect_w, rect_d, rect_a):
    u = [-w / 2, w / 2, w / 2, -w / 2]
    v = [-d / 2, -d / 2, d / 2, d / 2]
    fill(ax, placed(e, s, u, v, a), 'white', 8, lw=2.3)

ax.scatter(E0 + np.array(recv_e), N0 - np.array(recv_s), marker='8', s=85, facecolor='white',
           edgecolor='#888888', linewidth=0.4, zorder=9)
for e, s, level in zip(recv_e, recv_s, recv_level):
    ax.text(E0 + e, N0 - s, str(level), fontsize=5, color='#555555', ha='center', va='center', zorder=10)
ax.scatter(E0 + np.array(centre_e), N0 - np.array(centre_s), marker='o', s=10, facecolor='white',
           edgecolor='#555555', linewidth=0.5, zorder=9)

# legend panel sits over the lower right corner and runs off the page
panel = fig.add_axes(px_box(2318, 1428, 2610, 1830))
panel.set_xticks([])
panel.set_yticks([])
panel.set_facecolor('white')
panel.set_zorder(5)
for side in panel.spines.values():
    side.set_color('#777777')
    side.set_linewidth(0.9)
handles = [Patch(facecolor=c, edgecolor='#777777', linewidth=0.6) for c in legend_colors]
panel.legend(handles, legend_labels, loc='upper left', bbox_to_anchor=(19 / 292, 1 - 20 / 402), frameon=False,
             fontsize=16, borderpad=0, borderaxespad=0, handlelength=2.66, handleheight=1.0,
             handletextpad=0.32, labelspacing=0.317)

fig.savefig('out.png', dpi=100)
